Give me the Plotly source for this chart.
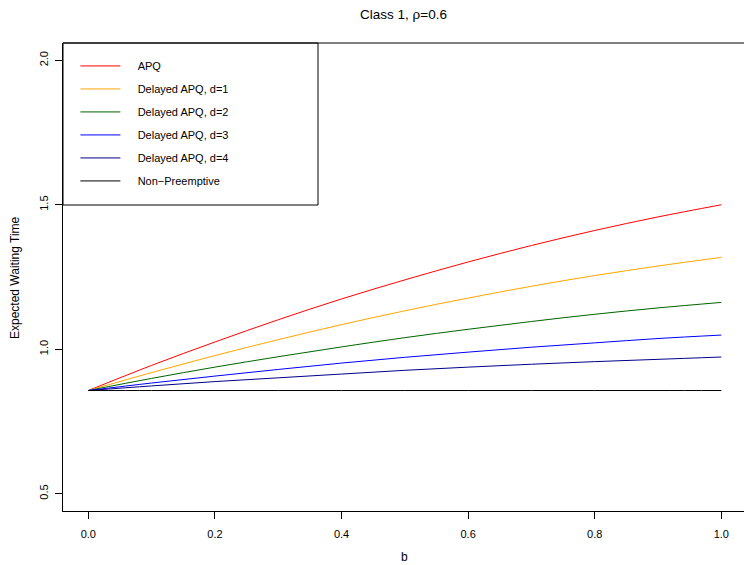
import plotly.graph_objects as go

b = [0.0, 0.1, 0.2, 0.3, 0.4, 0.5, 0.6, 0.7, 0.8, 0.9, 1.0]
apq = [0.857, 0.944, 1.025, 1.102, 1.174, 1.240, 1.302, 1.359, 1.411, 1.458, 1.500]
d1 = [0.857, 0.919, 0.978, 1.033, 1.085, 1.133, 1.177, 1.218, 1.255, 1.288, 1.318]
d2 = [0.857, 0.899, 0.938, 0.974, 1.008, 1.040, 1.069, 1.096, 1.121, 1.143, 1.162]
d3 = [0.857, 0.883, 0.907, 0.930, 0.952, 0.972, 0.990, 1.007, 1.022, 1.037, 1.049]
d4 = [0.857, 0.873, 0.888, 0.901, 0.914, 0.927, 0.938, 0.948, 0.957, 0.965, 0.973]
nonpre = [0.857] * len(b)

series = [
    ("APQ", apq, "#FF0000"),
    ("Delayed APQ, d=1", d1, "#FFA500"),
    ("Delayed APQ, d=2", d2, "#006400"),
    ("Delayed APQ, d=3", d3, "#0000FF"),
    ("Delayed APQ, d=4", d4, "#00008B"),
    ("Non\u2212Preemptive", nonpre, "#000000"),
]

xticks = [0.0, 0.2, 0.4, 0.6, 0.8, 1.0]
yticks = [0.5, 1.0, 1.5, 2.0]

fig = go.Figure()
for i, (name, vals, col) in enumerate(series):
    fig.add_trace(go.Scatter(x=b, y=vals, mode="lines", name="\u2007\u2007" + name,
                             line=dict(color=col, width=1, shape="spline"),
                             legendgroup=str(i)))

font = "Liberation Sans, Arial, sans-serif"
fig.update_layout(
    width=744, height=565,
    margin=dict(l=63, r=0, t=43, b=54),
    plot_bgcolor="white", paper_bgcolor="white",
    font=dict(family=font, size=11, color="black"),
    title=dict(text="Class 1, \u03c1=0.6", x=0.5, xref="paper", y=1 - 14 / 565,
               yanchor="middle", xanchor="center",
               font=dict(size=13.5, family=font, color="black")),
    showlegend=True,
    legend=dict(x=0.0182, y=0.982, xanchor="left", yanchor="top",
                bgcolor="rgba(0,0,0,0)", borderwidth=0,
                font=dict(size=11, family=font),
                tracegroupgap=4, itemwidth=40),
    xaxis=dict(range=[-0.04, 1.0358], tickvals=xticks,
               ticktext=[f"{v:.1f}" for v in xticks],
               showgrid=False, zeroline=False, showline=True, linecolor="black",
               linewidth=1, ticks="outside", ticklen=7, tickcolor="black",
               ticklabelstandoff=6, automargin=False),
    yaxis=dict(range=[0.44, 2.06], tickvals=yticks,
               ticktext=[f"{v:.1f}" for v in yticks], tickangle=-90,
               showgrid=False, zeroline=False, showline=True, linecolor="black",
               linewidth=1, ticks="outside", ticklen=7, tickcolor="black",
               ticklabelstandoff=3, automargin=False),
    annotations=[
        dict(text="b", xref="paper", yref="paper", x=(404 - 63) / 681,
             y=-(557 - 511) / 468, xanchor="center", yanchor="middle",
             showarrow=False, font=dict(size=12, family=font)),
        dict(text="Expected Waiting Time", xref="paper", yref="paper",
             x=(15 - 63) / 681, y=0.5, xanchor="center", yanchor="middle",
             textangle=-90, showarrow=False, font=dict(size=12, family=font)),
    ],
    shapes=[
        dict(type="line", xref="paper", yref="paper", x0=0, x1=1, y0=1, y1=1,
             line=dict(color="black", width=1)),
        dict(type="rect", xref="paper", yref="paper",
             x0=0, x1=(318 - 63) / 681, y0=(511 - 205) / 468, y1=1,
             line=dict(color="black", width=1), fillcolor="rgba(0,0,0,0)"),
    ],
)

fig.write_html("out.html")
